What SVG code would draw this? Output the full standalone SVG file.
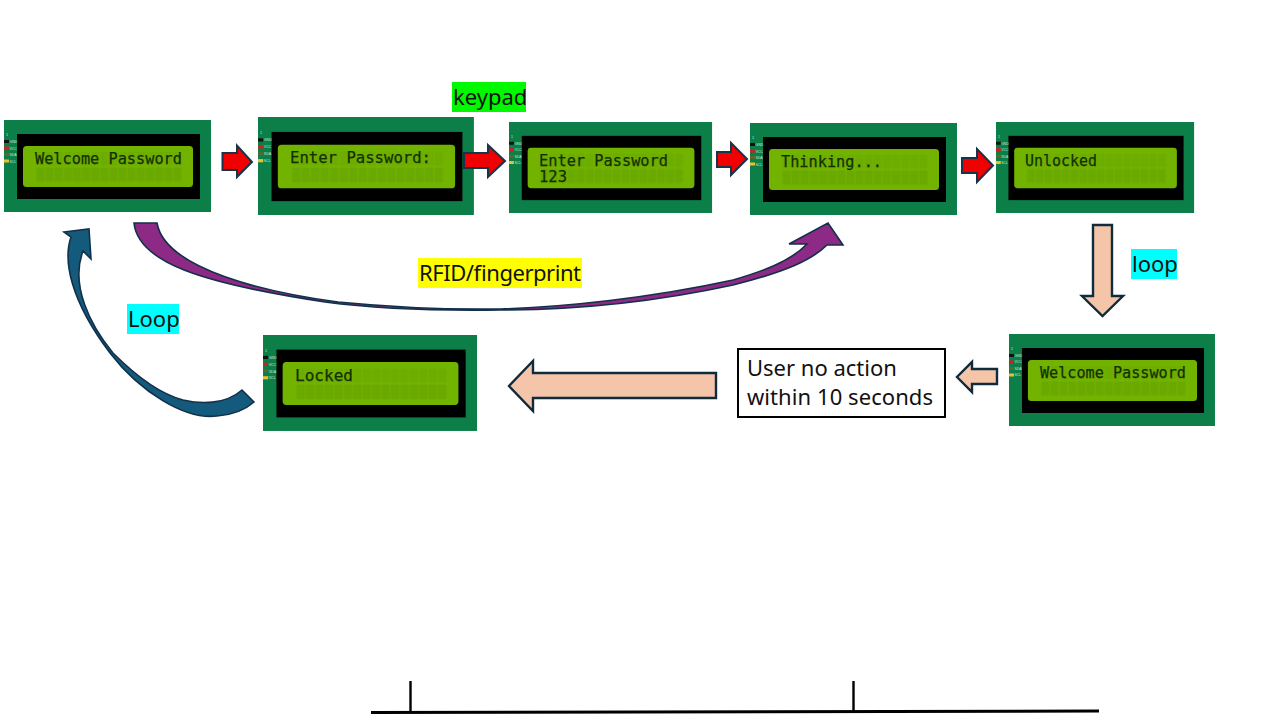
<svg xmlns="http://www.w3.org/2000/svg" width="1280" height="720" viewBox="0 0 1280 720">
<style>
.b{font-family:"Noto Sans","Open Sans",sans-serif;font-size:22px;fill:#111}
.l{font-family:"DejaVu Sans Mono","Liberation Mono",monospace;font-size:16.500px;fill:#143000;stroke:#143000;stroke-width:.25}
.p{font-family:"Liberation Sans",sans-serif;font-size:3.500px;fill:#cfe8d8}
.red{fill:#f00000;stroke:#16344a;stroke-width:2}
.pe{fill:#f5c5aa;stroke:#102c3c;stroke-width:2.400}
</style>
<defs>
<pattern id="cells" x="32" y="32" width="9.125" height="30" patternUnits="userSpaceOnUse">
<rect x=".4" y="0" width="8.200" height="13.500" fill="#6dad00"/>
<rect x=".4" y="15.500" width="8.200" height="14" fill="#6aa900"/>
</pattern>
<g id="lcd">
<rect width="207" height="92" fill="#0b7f47"/>
<rect x="13" y="14" width="183" height="65" fill="#000"/>
<rect x="19" y="26" width="170" height="41" rx="3.500" fill="#72b300"/>
<rect x="32" y="32" width="146" height="30" fill="url(#cells)"/>
<rect x="0" y="20" width="5" height="3" fill="#111"/>
<rect x="0" y="26.500" width="5" height="3" fill="#d02020"/>
<rect x="0" y="33" width="5" height="3" fill="#556b2f"/>
<rect x="0" y="39.500" width="5" height="3" fill="#e8c030"/>
<text class="p" x="2" y="16">1</text>
<text class="p" x="5.500" y="23">GND</text>
<text class="p" x="5.500" y="29.500">VCC</text>
<text class="p" x="5.500" y="36">SDA</text>
<text class="p" x="5.500" y="42.500">SCL</text>
</g>
</defs>
<rect width="1280" height="720" fill="#fff"/>

<g id="lcd-welcome"><use href="#lcd" transform="translate(4 120)"/><text class="l" x="35" y="164" textLength="147" lengthAdjust="spacingAndGlyphs">Welcome Password</text></g>
<g id="lcd-enter"><use href="#lcd" transform="translate(258 117) scale(1.043 1.065)"/><text class="l" x="290" y="163" textLength="141" lengthAdjust="spacingAndGlyphs">Enter Password:</text></g>
<g id="lcd-123"><use href="#lcd" transform="translate(509 122) scale(.981 .989)"/><text class="l" x="539" y="166" textLength="129" lengthAdjust="spacingAndGlyphs">Enter Password</text><text class="l" x="539" y="182" textLength="28" lengthAdjust="spacingAndGlyphs">123</text></g>
<g id="lcd-thinking"><use href="#lcd" transform="translate(750 123)"/><text class="l" x="781" y="167" textLength="101" lengthAdjust="spacingAndGlyphs">Thinking...</text></g>
<g id="lcd-unlocked"><use href="#lcd" transform="translate(996 122) scale(.957 .989)"/><text class="l" x="1025" y="165.500" textLength="72" lengthAdjust="spacingAndGlyphs">Unlocked</text></g>
<g id="lcd-welcome-2"><use href="#lcd" transform="translate(1009 334) scale(.995 1)"/><text class="l" x="1040" y="378" textLength="146" lengthAdjust="spacingAndGlyphs">Welcome Password</text></g>
<g id="lcd-locked"><use href="#lcd" transform="translate(263 335) scale(1.034 1.043)"/><text class="l" x="295" y="381" textLength="58" lengthAdjust="spacingAndGlyphs">Locked</text></g>

<g id="connectors">
<g id="red-arrows" class="red">
<polygon points="222.500,153 237,153 237,145.500 252,162 237,177 237,170 222.500,170"/>
<polygon points="464,153 488,153 488,145 505,161 488,177 488,168 464,168"/>
<polygon points="717,152 731,152 731,143 747,159 731,175 731,167 717,167"/>
<polygon points="962,158 977,158 977,149 993,165.500 977,182 977,173 962,173"/>
</g>
<path id="arrow-purple" d="M134,223 L157,223 C165,270 270,293 338,302 C390,307 440,310 500,309 C565,307 650,298 733,280 C760,272 790,262 807,244 L789,244 L828,223 L843,245 L827,245 C812,260 785,272 733,285 C650,303 570,310 500,310 C430,311 370,308 325,302 C200,283 138,262 134,223 Z" fill="#8d2a86" stroke="#12304a" stroke-width="1.600"/>
<path id="arrow-blue" d="M254,402 L242,390 C225,405 200,404 183,400 C160,394 135,375 113,353 C90,325 70,285 83,251 L91,259 L89,229 L64,232 L71,237 C63,260 70,300 110,353 C140,392 185,420 217,416 C232,415 245,410 254,402 Z" fill="#145a7c" stroke="#12304a" stroke-width="1.600"/>
<polygon class="pe" points="1093,225 1112,225 1112,296 1123,296 1102.500,316 1082,296 1093,296"/>
<polygon class="pe" points="997,369 972,369 972,362 957,377 972,392 972,384 997,384"/>
<polygon class="pe" points="716,373 533,373 533,361 509,386 533,411 533,398 716,398"/>
</g>

<g id="label-keypad"><rect x="452" y="82" width="74" height="30" fill="#00f800"/><text class="b" x="453" y="105">keypad</text></g>
<g id="label-rfid"><rect x="418" y="258" width="164" height="30" fill="#ffff00"/><text class="b" x="419" y="281" textLength="162">RFID/fingerprint</text></g>
<g id="label-loop"><rect x="1131" y="249" width="46" height="30" fill="#00ffff"/><text class="b" x="1132" y="272">loop</text></g>
<g id="label-Loop"><rect x="127" y="304" width="52" height="30" fill="#00ffff"/><text class="b" x="128" y="327">Loop</text></g>
<g id="box-user"><rect x="738" y="349" width="207" height="68" fill="#fff" stroke="#000" stroke-width="2"/><text class="b" x="747" y="376">User no action</text><text class="b" x="747" y="405" textLength="186">within 10 seconds</text></g>

<g id="timeline" stroke="#000" fill="none">
<path d="M371,712.500 L1099,711" stroke-width="3"/>
<path d="M410.500,681 V712 M853.500,681 V712" stroke-width="2.400"/>
</g>
</svg>
